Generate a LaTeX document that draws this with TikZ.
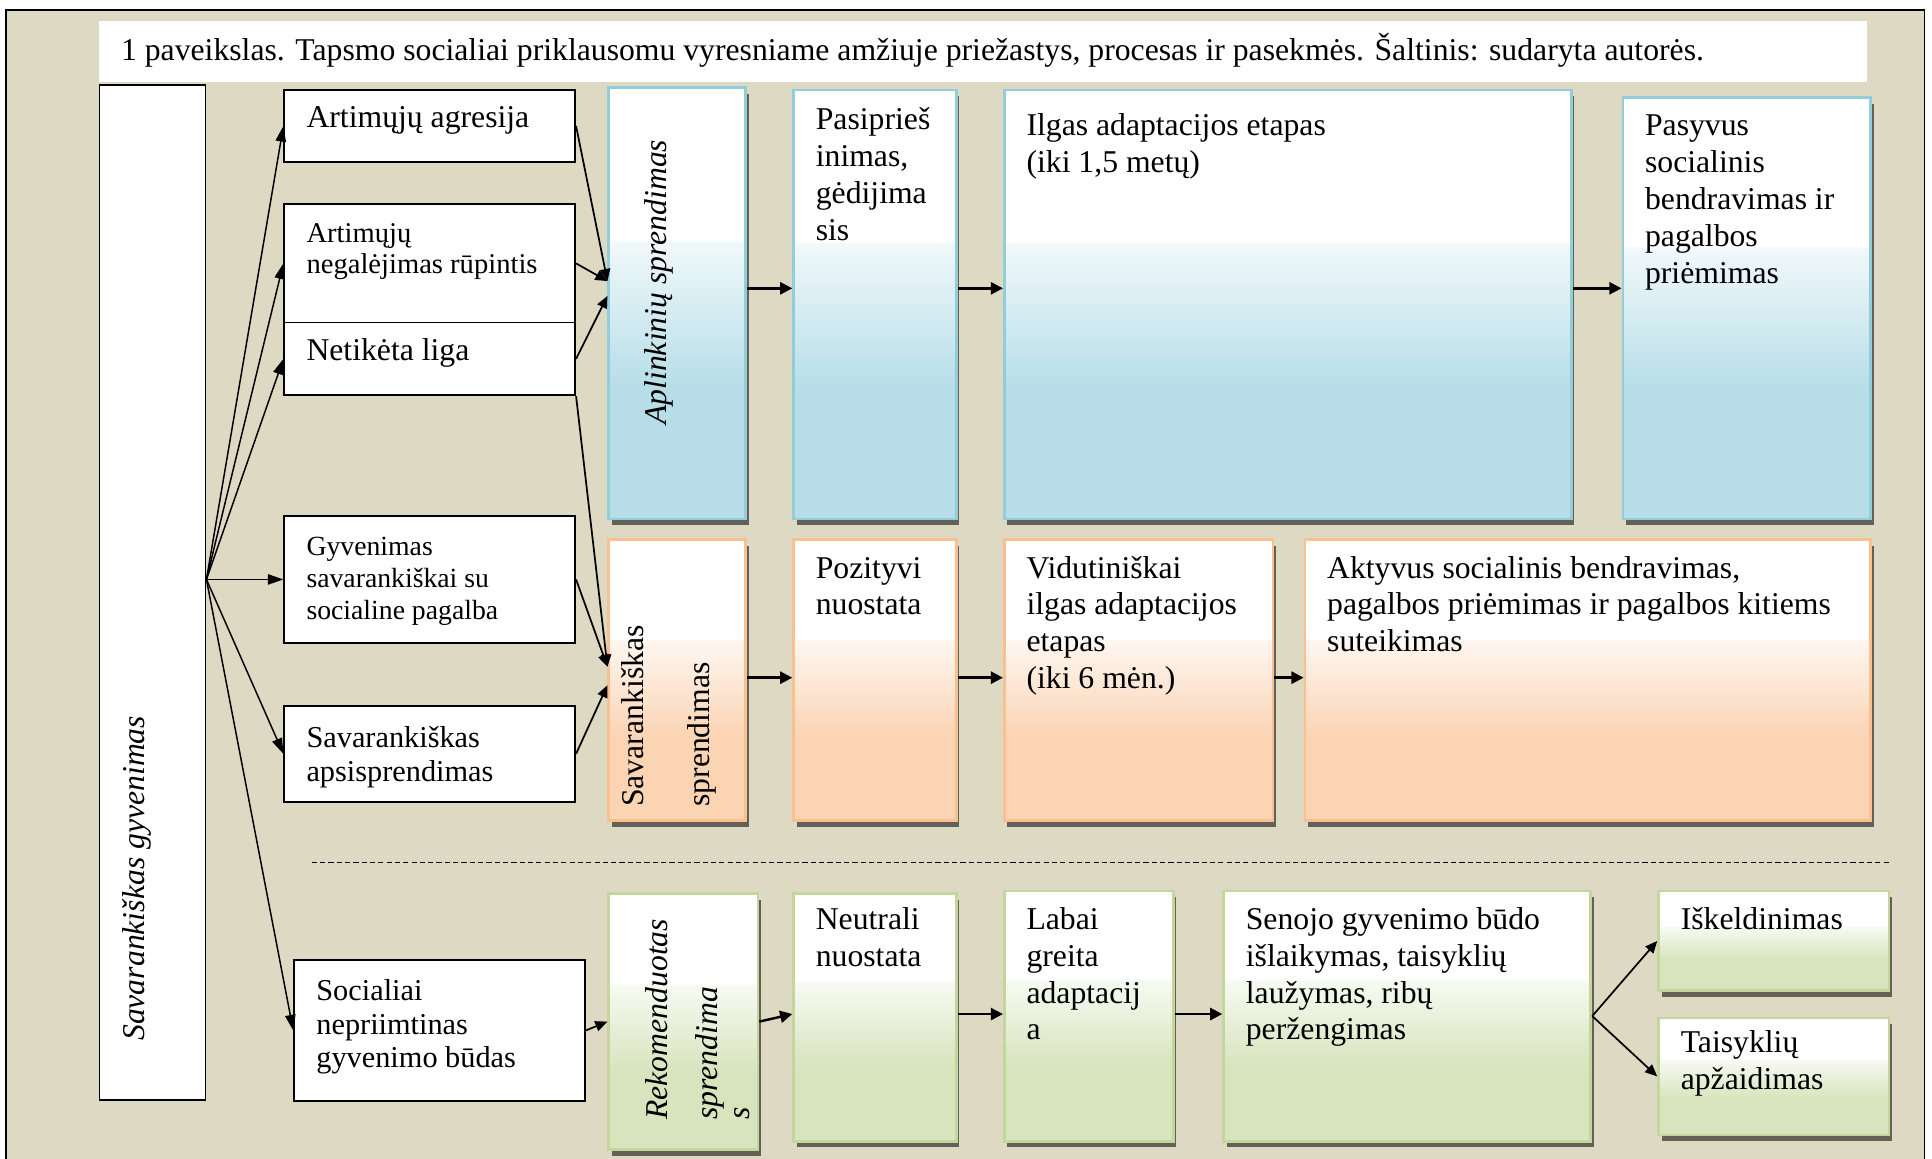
\documentclass[tikz,border=0pt]{standalone}
\usepackage{fontspec}
\setmainfont{Liberation Serif}
\usetikzlibrary{arrows.meta, shadows}
\definecolor{bgtan}{HTML}{DDD9C3}
\definecolor{bluedge}{HTML}{92CDDC}
\definecolor{blubot}{HTML}{B6DDE8}
\definecolor{orgedge}{HTML}{FAC090}
\definecolor{orgbot}{HTML}{FBD4B4}
\definecolor{grnedge}{HTML}{C3D69B}
\definecolor{grnbot}{HTML}{D7E4BD}
\newlength{\pxu}
\setlength{\pxu}{0.025cm}
\pgfdeclareverticalshading{blufade}{100bp}{color(0bp)=(blubot); color(40bp)=(blubot); color(57bp)=(blubot!20); color(57.5bp)=(white); color(100bp)=(white)}
\pgfdeclareverticalshading{orgfade}{100bp}{color(0bp)=(orgbot); color(40bp)=(orgbot); color(57bp)=(orgbot!20); color(57.5bp)=(white); color(100bp)=(white)}
\pgfdeclareverticalshading{grnfade}{100bp}{color(0bp)=(grnbot); color(40bp)=(grnbot); color(57bp)=(grnbot!20); color(57.5bp)=(white); color(100bp)=(white)}
\newcommand{\bigtxt}{\fontsize{18.3}{21.3}\selectfont}
% width, height, first baseline (all in px), text
\newcommand{\intext}[4]{\hspace*{18\pxu}\parbox[t][#2\pxu][t]{\dimexpr#1\pxu-18\pxu\relax}{\vspace*{\dimexpr#3\pxu-\ht\strutbox\relax}\raggedright\strut #4}}
\tikzset{
  wbox/.style={rectangle,draw=black,line width=1.1pt,fill=white,anchor=north west,inner sep=0pt},
  cbox/.style={rectangle,draw=#1edge,line width=1.6pt,shade,shading=#1fade,anchor=north west,inner sep=0pt,
    drop shadow={shadow xshift=2.5*\pxu,shadow yshift=-5*\pxu,opacity=0.55,fill=black}},
  rot/.style={rotate=90,anchor=base west,inner sep=0pt,align=left},
  fan/.style={-{Triangle[length=9pt,width=6pt]},line width=0.85pt},
  inar/.style={-{Triangle[length=7pt,width=6pt]},line width=1pt},
  rowar/.style={-{Triangle[length=7pt,width=7pt]},line width=1.4pt},
}
\begin{document}
\begin{tikzpicture}[x=0.025cm,y=-0.025cm,font=\bigtxt]
  \useasboundingbox (0,0) rectangle (1568,940);
  \draw[line width=1pt,fill=bgtan] (5,8) rectangle (1562,960);
  \node[fill=white,anchor=north west,inner sep=0pt] (ttl) at (80,17)
    {\intext{1435}{49}{31}{1 paveikslas. Tapsmo socialiai priklausomu vyresniame amžiuje priežastys, procesas ir pasekmės. Šaltinis: sudaryta autorės.}};

  % left column
  \node[wbox,minimum width=86*\pxu,minimum height=824*\pxu] (sg) at (80,68) {};
  \node[rot,font=\bigtxt\itshape] (sg-t) at (117,845) {Savarankiškas gyvenimas};

  \node[wbox] (agr) at (230,72) {\intext{236}{59}{31}{Artimųjų agresija}};
  \node[wbox,font=\fontsize{16.5}{17.7}\selectfont] (neg) at (230,165) {\intext{236}{96}{31}{Artimųjų\\negalėjimas rūpintis}};
  \node[wbox] (lig) at (230,261) {\intext{236}{59}{31}{Netikėta liga}};
  \node[wbox,font=\fontsize{16}{18.4}\selectfont] (gyv) at (230,418) {\intext{236}{103}{32}{Gyvenimas\\savarankiškai su\\socialine pagalba}};
  \node[wbox,font=\fontsize{17.5}{19.3}\selectfont] (aps) at (230,572) {\intext{236}{78}{34}{Savarankiškas\\apsisprendimas}};
  \node[wbox,font=\fontsize{17.5}{19.5}\selectfont] (soc) at (238,778) {\intext{236}{115}{33}{Socialiai\\nepriimtinas\\gyvenimo būdas}};

  % decisions
  \node[cbox=blu,minimum width=111*\pxu,minimum height=350*\pxu] (apl) at (493,70) {};
  \node[rot,font=\bigtxt\itshape] (apl-t) at (541,345) {Aplinkinių sprendimas};
  \node[cbox=org,minimum width=111*\pxu,minimum height=228*\pxu] (sav) at (493,437) {};
  \node[rot] (sav-t) at (576,655) {Savarankiškas\\[24\pxu]sprendimas};
  \node[cbox=grn,minimum width=121*\pxu,minimum height=208*\pxu] (rek) at (493,724) {};
  \node[rot,font=\bigtxt\itshape] (rek-t) at (608,909) {Rekomenduotas\\[10\pxu]sprendima\\[-4\pxu]s};

  % blue row
  \node[cbox=blu] (pas) at (643,72) {\intext{132}{348}{32}{Pasiprieš\\inimas,\\gėdijima\\sis}};
  \node[cbox=blu] (ilg) at (814,72) {\intext{460}{348}{37}{Ilgas adaptacijos etapas\\(iki 1,5 metų)}};
  \node[cbox=blu] (psv) at (1316,78) {\intext{201}{342}{31}{Pasyvus\\socialinis\\bendravimas ir\\pagalbos\\priėmimas}};

  % orange row
  \node[cbox=org] (poz) at (643,437) {\intext{132}{228}{31}{Pozityvi\\nuostata}};
  \node[cbox=org] (vid) at (814,437) {\intext{218}{228}{31}{Vidutiniškai\\ilgas adaptacijos\\etapas\\(iki 6 mėn.)}};
  \node[cbox=org] (akt) at (1058,437) {\intext{459}{228}{31}{Aktyvus socialinis bendravimas,\\pagalbos priėmimas ir pagalbos kitiems\\suteikimas}};

  % green row
  \node[cbox=grn] (neu) at (643,724) {\intext{132}{201}{29}{Neutrali\\nuostata}};
  \node[cbox=grn] (lab) at (814,722) {\intext{137}{203}{31}{Labai\\greita\\adaptacij\\a}};
  \node[cbox=grn] (sen) at (992,722) {\intext{298}{203}{31}{Senojo gyvenimo būdo\\išlaikymas, taisyklių\\laužymas, ribų\\peržengimas}};
  \node[cbox=grn] (isk) at (1345,722) {\intext{187}{81}{31}{Iškeldinimas}};
  \node[cbox=grn] (tai) at (1345,825) {\intext{187}{95}{28}{Taisyklių\\apžaidimas}};

  \draw[line width=0.6pt,dash pattern=on 3pt off 1.8pt] (253,700) -- (1535,700);

  \coordinate (row1) at (0,234);
  \coordinate (row2) at (0,550);
  \coordinate (row3) at (0,823);

  % arrows
  \foreach \t in {agr,neg,lig,gyv,aps,soc}
    \draw[fan] (sg.east |- gyv.west) -- (\t.west);
  \draw[inar] (agr.east) -- ([yshift=18*\pxu]apl.west);
  \draw[inar] (neg.east) -- ([yshift=18*\pxu]apl.west);
  \draw[inar] (lig.east) -- ([yshift=6*\pxu]apl.west);
  \draw[inar] (lig.south east) -- ([yshift=11*\pxu]sav.west);
  \draw[inar] (gyv.east) -- ([yshift=11*\pxu]sav.west);
  \draw[inar] (aps.east) -- ([yshift=-4*\pxu]sav.west);
  \draw[inar] (soc.east) -- (rek.west);

  \draw[rowar] (apl.east |- row1) -- (pas.west |- row1);
  \draw[rowar] (pas.east |- row1) -- (ilg.west |- row1);
  \draw[rowar] (ilg.east |- row1) -- (psv.west |- row1);
  \draw[rowar] (sav.east |- row2) -- (poz.west |- row2);
  \draw[rowar] (poz.east |- row2) -- (vid.west |- row2);
  \draw[rowar] (vid.east |- row2) -- (akt.west |- row2);
  \draw[rowar] (rek.east) -- (neu.west |- row3);
  \draw[rowar] (neu.east |- row3) -- (lab.west |- row3);
  \draw[rowar] (lab.east |- row3) -- (sen.west |- row3);
  \draw[inar] (sen.east) -- (isk.west);
  \draw[inar] (sen.east) -- (tai.west);
\end{tikzpicture}
\end{document}
